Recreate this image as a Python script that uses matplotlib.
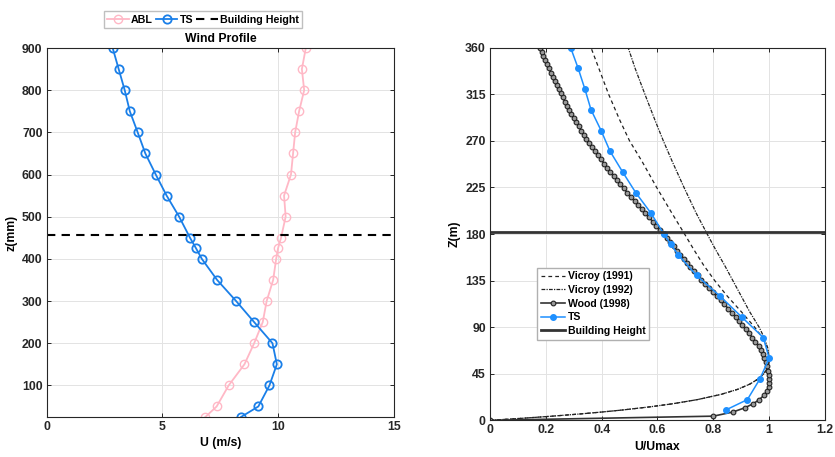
import numpy as np
import matplotlib
matplotlib.use("Agg")
import matplotlib.pyplot as plt

plt.rcParams['font.family'] = ['Liberation Sans', 'DejaVu Sans']
plt.rcParams['font.weight'] = 'bold'

# ---- left panel: wind profile (z in mm, U in m/s)
z_mm = [25, 50, 100, 150, 200, 250, 300, 350, 400, 425, 450, 500, 550, 600, 650, 700, 750, 800, 850, 900]
u_abl = [6.85, 7.34, 7.86, 8.54, 8.96, 9.33, 9.50, 9.78, 9.91, 9.99, 10.12, 10.32, 10.25, 10.55, 10.64, 10.73, 10.90, 11.12, 11.02, 11.19]
u_ts = [8.39, 9.14, 9.62, 9.94, 9.75, 8.96, 8.18, 7.36, 6.70, 6.45, 6.19, 5.72, 5.18, 4.71, 4.26, 3.93, 3.59, 3.37, 3.11, 2.85]
building_mm = 457

# ---- right panel: normalised profiles (Z in m)
z_vic = [0, 2, 4, 6, 8, 10, 13, 16, 20, 25, 30, 35, 40, 45, 50, 55, 60, 70, 80, 90, 105, 120,
         135, 150, 165, 180, 200, 225, 250, 270, 290, 315, 340, 360]
u_vic91 = [0, 0.118, 0.223, 0.317, 0.401, 0.476, 0.573, 0.655, 0.743, 0.827, 0.888, 0.931, 0.961,
           0.981, 0.993, 0.999, 1.0, 0.993, 0.976, 0.948, 0.90, 0.85, 0.805, 0.765, 0.73, 0.697,
           0.652, 0.597, 0.545, 0.50, 0.465, 0.425, 0.39, 0.362]
u_vic92 = [0, 0.118, 0.223, 0.317, 0.401, 0.476, 0.573, 0.655, 0.743, 0.827, 0.888, 0.931, 0.961,
           0.981, 0.993, 0.999, 1.0, 0.995, 0.982, 0.964, 0.93, 0.90, 0.87, 0.84, 0.808, 0.778,
           0.739, 0.695, 0.653, 0.621, 0.591, 0.555, 0.52, 0.495]

z_wood = np.arange(0, 361, 4)
u_wood = [0, 0.80, 0.87, 0.912, 0.943, 0.965, 0.981, 0.992, 0.998, 1.0, 1.0, 0.998, 0.995, 0.992,
          0.988, 0.983, 0.978, 0.971, 0.962, 0.951, 0.94, 0.928, 0.916, 0.904, 0.892, 0.88, 0.867,
          0.853, 0.84, 0.826, 0.812, 0.798, 0.784, 0.77, 0.757, 0.744, 0.731, 0.718, 0.706, 0.694,
          0.682, 0.67, 0.658, 0.646, 0.634, 0.622, 0.609, 0.596, 0.583, 0.57, 0.557, 0.544, 0.531,
          0.518, 0.505, 0.492, 0.479, 0.467, 0.455, 0.443, 0.431, 0.42, 0.409, 0.398, 0.387, 0.376,
          0.365, 0.355, 0.345, 0.336, 0.327, 0.318, 0.309, 0.3, 0.292, 0.284, 0.276, 0.268, 0.26,
          0.253, 0.246, 0.239, 0.232, 0.225, 0.218, 0.211, 0.205, 0.198, 0.191, 0.185, 0.179]

z_ts_m = [10, 20, 40, 60, 80, 100, 120, 140, 160, 170, 180, 200, 220, 240, 260, 280, 300, 320, 340, 360]
u_ts_norm = [0.845, 0.922, 0.967, 1.0, 0.979, 0.901, 0.824, 0.740, 0.674, 0.648, 0.623, 0.577,
             0.522, 0.475, 0.430, 0.398, 0.362, 0.340, 0.316, 0.289]
building_m = 182

fig = plt.figure(figsize=(8.35, 4.57), dpi=100)
ax1 = fig.add_axes([0.0559, 0.0875, 0.416, 0.8074])
ax2 = fig.add_axes([0.5868, 0.0803, 0.4012, 0.8153])


def style_axes(ax):
    ax.grid(True, color='#e3e3e3', linewidth=0.7)
    ax.set_axisbelow(True)
    for s in ax.spines.values():
        s.set_color('#262626')
        s.set_linewidth(0.8)
    ax.tick_params(direction='in', length=3, width=0.7, top=True, right=True,
                   labelsize=8.8, colors='#262626', pad=3)
    for lab in ax.get_xticklabels() + ax.get_yticklabels():
        lab.set_fontweight('bold')


# left
ax1.plot(u_abl, z_mm, '-o', color='#FFB8C6', mfc='none', mec='#FFB8C6', ms=6, lw=1.3, label='ABL')
ax1.plot(u_ts, z_mm, '-o', color='#1A7FE8', mfc='none', mec='#1A7FE8', ms=6, lw=1.3, mew=1.3, label='TS')
ax1.axhline(building_mm, color='black', lw=1.5, ls=(0, (4, 3)), label='Building Height')
ax1.set_xlim(0, 15)
ax1.set_ylim(25, 900)
ax1.set_xticks([0, 5, 10, 15])
ax1.set_yticks(range(100, 901, 100))
style_axes(ax1)
ax1.set_title('Wind Profile', fontsize=8.8, fontweight='bold', pad=4)
ax1.set_xlabel('U (m/s)', fontsize=8.8, fontweight='bold', labelpad=3)
ax1.set_ylabel('z(mm)', fontsize=8.8, fontweight='bold', labelpad=3)
ax1.legend(loc='lower center', bbox_to_anchor=(0.45, 1.055), ncol=3, fontsize=7.7,
           frameon=True, fancybox=False, edgecolor='#b0b0b0', handlelength=2.0,
           columnspacing=0.3, handletextpad=0.2, borderpad=0.3, borderaxespad=0)

# right
ax2.plot(u_vic91, z_vic, color='#222222', lw=0.9, ls=(0, (3, 2.5)), label='Vicroy (1991)')
ax2.plot(u_vic92, z_vic, color='#222222', lw=0.9, ls=(0, (3, 1, 1, 1)), label='Vicroy (1992)')
ax2.plot(u_wood, z_wood, '-o', color='#333333', mfc='#9a9a9a', mec='#222222', ms=3.4, mew=0.8,
         lw=1.2, label='Wood (1998)')
ax2.plot(u_ts_norm, z_ts_m, '-o', color='#1E90FF', mfc='#1E90FF', mec='#1E90FF', ms=4, lw=1.1, label='TS')
ax2.axhline(building_m, color='#333333', lw=2.0, label='Building Height')
ax2.set_xlim(0, 1.2)
ax2.set_ylim(0, 360)
ax2.set_xticks(np.arange(0, 1.21, 0.2))
ax2.set_xticklabels(['0', '0.2', '0.4', '0.6', '0.8', '1', '1.2'])
ax2.set_yticks(range(0, 361, 45))
style_axes(ax2)
ax2.set_xlabel('U/Umax', fontsize=8.8, fontweight='bold', labelpad=3)
ax2.set_ylabel('Z(m)', fontsize=8.8, fontweight='bold', labelpad=3)
ax2.legend(loc='upper left', bbox_to_anchor=(0.14, 0.41), fontsize=7.6, frameon=True,
           fancybox=False, edgecolor='#b0b0b0', framealpha=1, handlelength=2.3,
           labelspacing=0.35, handletextpad=0.3, borderpad=0.35, borderaxespad=0)

fig.savefig('out.png', dpi=100)
